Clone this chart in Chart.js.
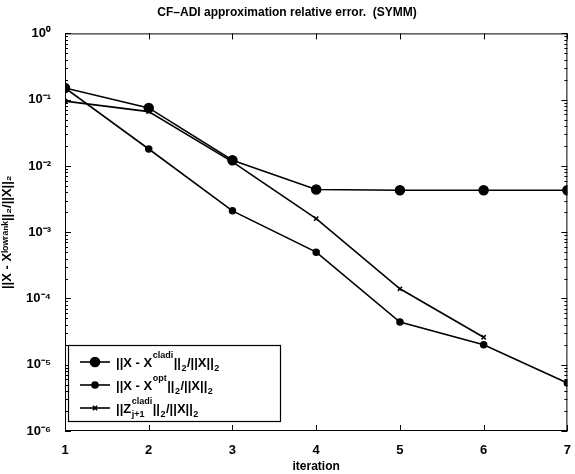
<!DOCTYPE html>
<html>
<head>
<meta charset="utf-8">
<script src="https://cdn.jsdelivr.net/npm/chart.js@4"></script>
<style>
  html, body { margin:0; padding:0; background:#fff; }
  #wrap { width:575px; height:474px; position:relative; }
</style>
</head>
<body>
<div id="wrap"><canvas id="chart" width="575" height="474"></canvas></div>
<script>
// values
const iterations = [1, 2, 3, 4, 5, 6, 7];
const cladiErr = [0.15, 0.075, 0.0122, 0.0044, 0.0043, 0.0043, 0.0043];
const optErr   = [0.15, 0.018, 0.0021, 0.0005, 0.000044, 0.00002, 0.0000053];
const zNorm    = [0.095, 0.066, 0.0115, 0.0016, 0.00014, 0.000026, null];
const yTickPowers = [0, -1, -2, -3, -4, -5, -6];

const FONT = '"Liberation Sans", Arial, sans-serif';
const SUP = {'0':'⁰','1':'¹','2':'²','3':'³','4':'⁴','5':'⁵','6':'⁶','7':'⁷','8':'⁸','9':'⁹','-':'⁻'};
const sup = s => String(s).split('').map(c => SUP[c] || c).join('');

const pts = arr => iterations.map((x,i) => ({x, y: arr[i]})).filter(p => p.y != null);

// legend entries, drawn as rich text with super/subscripts
const legendItems = [
  { style:'circle', r:4.5, segs:[{t:'||X - X'},{sup:'cladi'},{t:'||'},{sub:'2'},{t:'/||X||'},{sub:'2'}] },
  { style:'circle', r:3,   segs:[{t:'||X - X'},{sup:'opt'},{t:'||'},{sub:'2'},{t:'/||X||'},{sub:'2'}] },
  { style:'crossRot', r:3, segs:[{t:'||Z'},{sup:'cladi', sub:'j+1'},{t:'||'},{sub:'2'},{t:'/||X||'},{sub:'2'}] }
];

function drawRich(ctx, segs, x, y){
  ctx.textBaseline = 'middle';
  ctx.textAlign = 'left';
  segs.forEach(s => {
    let w = 0;
    if (s.t){
      ctx.font = 'bold 13px ' + FONT;
      ctx.fillText(s.t, x, y);
      w = ctx.measureText(s.t).width;
    }
    if (s.sup || s.sub){
      ctx.font = 'bold 9px ' + FONT;
      if (s.sup){ ctx.fillText(s.sup, x, y - 7); w = Math.max(w, ctx.measureText(s.sup).width); }
      if (s.sub){ ctx.fillText(s.sub, x, y + 6); w = Math.max(w, ctx.measureText(s.sub).width); }
    }
    x += w + 0.5;
  });
}

const framePlugin = {
  id: 'frame',
  afterDatasetsDraw(chart){
    const {ctx, chartArea:a, scales} = chart;
    ctx.save();
    ctx.strokeStyle = '#000';
    ctx.lineWidth = 1;
    ctx.strokeRect(a.left + 0.5, a.top + 0.5, a.right - a.left - 1, a.bottom - a.top - 1);
    ctx.beginPath();
    // x ticks, inward on bottom and top
    iterations.forEach(v => {
      const px = Math.round(scales.x.getPixelForValue(v)) + 0.5;
      ctx.moveTo(px, a.bottom); ctx.lineTo(px, a.bottom - 6);
      ctx.moveTo(px, a.top); ctx.lineTo(px, a.top + 6);
    });
    // y ticks, major and minor, inward on left and right
    for (let k = -6; k <= 0; k++){
      for (let m = 1; m <= 9; m++){
        const v = m * Math.pow(10, k);
        if (v > 1) break;
        const py = Math.round(scales.y.getPixelForValue(v)) + 0.5;
        const len = m === 1 ? 6 : 3;
        ctx.moveTo(a.left, py); ctx.lineTo(a.left + len, py);
        ctx.moveTo(a.right, py); ctx.lineTo(a.right - len, py);
      }
    }
    ctx.stroke();

    // legend box in the lower left of the plot
    const bx = a.left + 3, by = a.bottom - 86, bw = 212, bh = 76;
    ctx.fillStyle = '#fff';
    ctx.fillRect(bx, by, bw, bh);
    ctx.lineWidth = 1.2;
    ctx.strokeRect(bx + 0.5, by + 0.5, bw, bh);
    legendItems.forEach((it, i) => {
      const ly = by + 17 + i * 23;
      ctx.lineWidth = 1.6;
      ctx.beginPath();
      ctx.moveTo(bx + 12, ly); ctx.lineTo(bx + 42, ly);
      ctx.stroke();
      ctx.fillStyle = '#000';
      Chart.helpers.drawPoint(ctx, {pointStyle: it.style, radius: it.r, borderWidth: 1.5}, bx + 27, ly);
      ctx.fillStyle = '#000';
      drawRich(ctx, it.segs, bx + 48, ly + 1);
    });
    ctx.restore();
  }
};

const lineDs = (label, arr, style, r) => ({
  label, data: pts(arr),
  borderColor:'#000', backgroundColor:'#000', borderWidth:1.6,
  pointStyle: style, pointRadius: r, pointBorderWidth: 1.5,
  pointBackgroundColor:'#000', pointBorderColor:'#000', tension:0
});

new Chart(document.getElementById('chart'), {
  type: 'line',
  data: {
    datasets: [
      lineDs('cladi', cladiErr, 'circle', 4.5),
      lineDs('opt', optErr, 'circle', 3),
      lineDs('z', zNorm, 'crossRot', 3)
    ]
  },
  options: {
    responsive: false,
    animation: false,
    layout: { padding: { left: 0, right: 1, top: 0, bottom: 0 } },
    plugins: {
      legend: { display: false },
      tooltip: { enabled: false },
      title: {
        display: true,
        text: 'CF–ADI approximation relative error.  (SYMM)',
        color: '#000',
        font: { family: FONT, size: 12, weight: 'bold' },
        padding: { top: 5, bottom: 14 }
      }
    },
    scales: {
      x: {
        type: 'linear', min: 1, max: 7,
        grid: { display: false }, border: { display: false },
        ticks: { stepSize: 1, color:'#000', padding: 4, font: { family: FONT, size: 13, weight: 'bold' } },
        title: { display: true, text: 'iteration', color:'#000', padding: { top: 0, bottom: 0 },
                 font: { family: FONT, size: 12, weight: 'bold' } },
        afterFit(s){ s.height = 43; }
      },
      y: {
        type: 'logarithmic', min: 1e-6, max: 1,
        grid: { display: false }, border: { display: false },
        afterBuildTicks(s){ s.ticks = yTickPowers.map(p => ({ value: Math.pow(10, p) })); },
        ticks: {
          color:'#000', padding: 6,
          font: { family: FONT, size: 13, weight: 'bold' },
          callback(v){ return '10' + sup(Math.round(Math.log10(v))); }
        },
        title: { display: true, text: '||X - Xˡᵒʷʳᵃⁿᵏ||₂/||X||₂', color:'#000', padding: { top: 0, bottom: 2 },
                 font: { family: FONT, size: 13, weight: 'bold' } },
        afterFit(s){ s.width = 65; }
      }
    }
  },
  plugins: [framePlugin]
});
</script>
</body>
</html>
